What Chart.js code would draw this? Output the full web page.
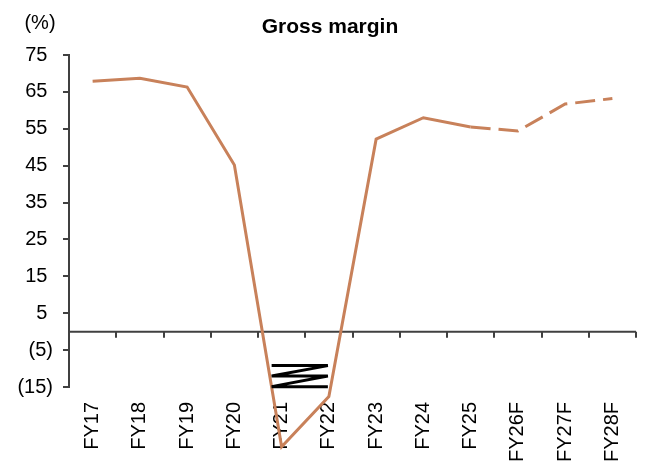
<!DOCTYPE html>
<html>
<head>
<meta charset="utf-8">
<script src="https://cdn.jsdelivr.net/npm/chart.js@4.4.1/dist/chart.umd.min.js"></script>
<style>
  html, body { margin: 0; padding: 0; background: #fff; }
  #wrap { width: 652px; height: 470px; }
</style>
</head>
<body>
<div id="wrap"><canvas id="chartMargin"></canvas></div>
<script>
// Data gross margin (%)
const kategori = ['FY17', 'FY18', 'FY19', 'FY20', 'FY21', 'FY22', 'FY23', 'FY24', 'FY25', 'FY26F', 'FY27F', 'FY28F'];
const grossMargin = [67.9, 68.7, 66.3, 45.2, -31.2, -17.6, 52.2, 58.0, 55.5, 54.4, 61.7, 63.2];
const yTicks = [-15, -5, 5, 15, 25, 35, 45, 55, 65, 75];
const awalForecast = 8; // mulai garis putus-putus dari FY25
const judul = 'Gross margin';

const warnaGaris = '#C8815A';
const warnaSumbu = '#404040';
const font = "'Liberation Sans', Arial, sans-serif";

// Format angka negatif dalam kurung
function formatTick(v) {
    return v < 0 ? '(' + Math.abs(v) + ')' : v + ' ';
}

// Plugin: judul, garis nol, tick kategori, simbol patah sumbu, label (%)
const dekorasi = {
    id: 'dekorasi',
    beforeDatasetsDraw(chart) {
        const { ctx, chartArea, scales: { x, y } } = chart;
        const y0 = y.getPixelForValue(0);
        ctx.save();
        ctx.strokeStyle = warnaSumbu;
        ctx.lineWidth = 2;
        ctx.beginPath();
        ctx.moveTo(chartArea.left, y0);
        ctx.lineTo(chartArea.right, y0);
        const lebar = (chartArea.right - chartArea.left) / kategori.length;
        for (let i = 0; i <= kategori.length; i++) {
            const px = Math.round(chartArea.left + i * lebar);
            ctx.moveTo(px, y0);
            ctx.lineTo(px, y0 + 6);
        }
        ctx.stroke();
        ctx.restore();
    },
    afterDatasetsDraw(chart) {
        const { ctx, scales: { x, y } } = chart;
        // simbol patah sumbu
        const x1 = x.getPixelForValue(4) - 10;
        const x2 = x.getPixelForValue(5) - 1;
        const ya = y.getPixelForValue(-9.2);
        const yb = y.getPixelForValue(-12);
        const yc = y.getPixelForValue(-14.9);
        ctx.save();
        ctx.strokeStyle = '#000';
        ctx.lineWidth = 3;
        ctx.lineJoin = 'miter';
        ctx.beginPath();
        ctx.moveTo(x1, ya);
        ctx.lineTo(x2, ya);
        ctx.lineTo(x1, yb);
        ctx.lineTo(x2, yb);
        ctx.lineTo(x1, yc);
        ctx.lineTo(x2, yc);
        ctx.stroke();
        // label satuan dan judul
        ctx.fillStyle = '#000';
        ctx.textAlign = 'center';
        ctx.textBaseline = 'middle';
        ctx.font = '20px ' + font;
        ctx.fillText('(%)', 40, 23);
        ctx.font = 'bold 21px ' + font;
        ctx.fillText(judul, 330, 27);
        ctx.restore();
    }
};

const config = {
    type: 'line',
    data: {
        labels: kategori,
        datasets: [{
            label: judul,
            data: grossMargin,
            borderColor: warnaGaris,
            borderWidth: 3,
            pointRadius: 0,
            tension: 0,
            clip: false,
            segment: {
                borderDash: c => c.p0DataIndex >= awalForecast ? [20, 8] : undefined
            }
        }]
    },
    options: {
        responsive: true,
        maintainAspectRatio: false,
        animation: false,
        devicePixelRatio: 1,
        layout: { padding: { left: 0, right: 16, top: 55, bottom: 0 } },
        plugins: {
            legend: { display: false },
            tooltip: { enabled: false },
            title: { display: false }
        },
        scales: {
            x: {
                type: 'category',
                offset: true,
                grid: { display: false },
                border: { display: false },
                ticks: {
                    color: '#000',
                    font: { family: font, size: 20 },
                    minRotation: 90,
                    maxRotation: 90,
                    padding: 7,
                    autoSkip: false
                },
                afterFit(scale) { scale.height = 83; }
            },
            y: {
                min: -15,
                max: 75,
                afterBuildTicks(scale) {
                    scale.ticks = yTicks.map(v => ({ value: v }));
                },
                grid: {
                    drawOnChartArea: false,
                    drawTicks: true,
                    tickLength: 6,
                    color: warnaSumbu,
                    lineWidth: 2
                },
                border: { display: true, color: warnaSumbu, width: 2 },
                ticks: {
                    color: '#000',
                    font: { family: font, size: 20 },
                    padding: 10,
                    callback: v => formatTick(v)
                },
                afterFit(scale) { scale.width = 69; }
            }
        }
    },
    plugins: [dekorasi]
};

new Chart(document.getElementById('chartMargin').getContext('2d'), config);
</script>
</body>
</html>
